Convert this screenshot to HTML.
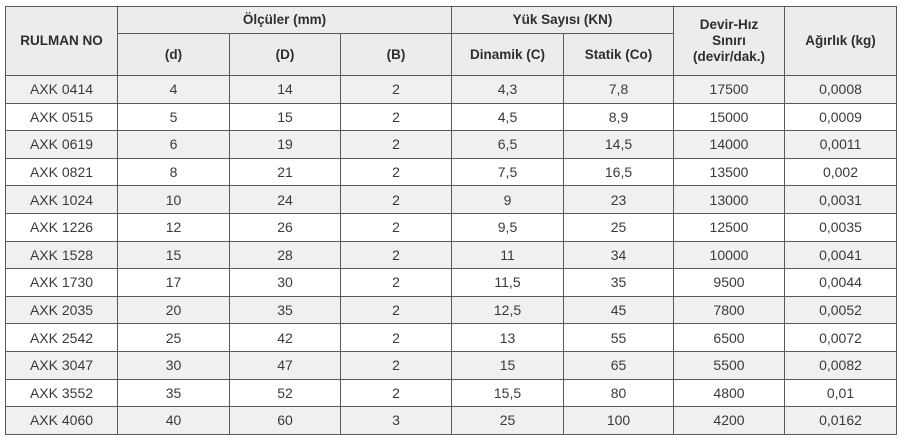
<!DOCTYPE html>
<html><head><style>
body{margin:0;background:#fff;width:900px;height:439px;overflow:hidden}
table{position:absolute;left:5px;top:6px;width:891px;height:428px;border-collapse:collapse;table-layout:fixed;font-family:"Liberation Sans Narrow","Liberation Sans",sans-serif;font-size:14px;color:#3a3a3a}
td,th{border:1px solid #5a5a5a;text-align:center;padding:0;line-height:16px}
th{background:#ececec;font-weight:bold;color:#2e2e2e;font-size:13.5px}
tr.h1{height:27px}tr.h2{height:42px}
tbody tr{height:27.6px}
tbody tr:nth-child(odd) td{background:#f0f0f0}
</style></head><body>
<table>
<colgroup><col style="width:112px"><col style="width:112px"><col style="width:111px"><col style="width:111px"><col style="width:112px"><col style="width:110px"><col style="width:111px"><col style="width:112px"></colgroup>
<thead>
<tr class="h1"><th rowspan="2">RULMAN NO</th><th colspan="3">Ölçüler (mm)</th><th colspan="2">Yük Sayısı (KN)</th><th rowspan="2">Devir-Hız<br>Sınırı<br>(devir/dak.)</th><th rowspan="2">Ağırlık (kg)</th></tr>
<tr class="h2"><th>(d)</th><th>(D)</th><th>(B)</th><th>Dinamik (C)</th><th>Statik (Co)</th></tr>
</thead>
<tbody>
<tr><td>AXK 0414</td><td>4</td><td>14</td><td>2</td><td>4,3</td><td>7,8</td><td>17500</td><td>0,0008</td></tr>
<tr><td>AXK 0515</td><td>5</td><td>15</td><td>2</td><td>4,5</td><td>8,9</td><td>15000</td><td>0,0009</td></tr>
<tr><td>AXK 0619</td><td>6</td><td>19</td><td>2</td><td>6,5</td><td>14,5</td><td>14000</td><td>0,0011</td></tr>
<tr><td>AXK 0821</td><td>8</td><td>21</td><td>2</td><td>7,5</td><td>16,5</td><td>13500</td><td>0,002</td></tr>
<tr><td>AXK 1024</td><td>10</td><td>24</td><td>2</td><td>9</td><td>23</td><td>13000</td><td>0,0031</td></tr>
<tr><td>AXK 1226</td><td>12</td><td>26</td><td>2</td><td>9,5</td><td>25</td><td>12500</td><td>0,0035</td></tr>
<tr><td>AXK 1528</td><td>15</td><td>28</td><td>2</td><td>11</td><td>34</td><td>10000</td><td>0,0041</td></tr>
<tr><td>AXK 1730</td><td>17</td><td>30</td><td>2</td><td>11,5</td><td>35</td><td>9500</td><td>0,0044</td></tr>
<tr><td>AXK 2035</td><td>20</td><td>35</td><td>2</td><td>12,5</td><td>45</td><td>7800</td><td>0,0052</td></tr>
<tr><td>AXK 2542</td><td>25</td><td>42</td><td>2</td><td>13</td><td>55</td><td>6500</td><td>0,0072</td></tr>
<tr><td>AXK 3047</td><td>30</td><td>47</td><td>2</td><td>15</td><td>65</td><td>5500</td><td>0,0082</td></tr>
<tr><td>AXK 3552</td><td>35</td><td>52</td><td>2</td><td>15,5</td><td>80</td><td>4800</td><td>0,01</td></tr>
<tr><td>AXK 4060</td><td>40</td><td>60</td><td>3</td><td>25</td><td>100</td><td>4200</td><td>0,0162</td></tr>
</tbody>
</table>
</body></html>
